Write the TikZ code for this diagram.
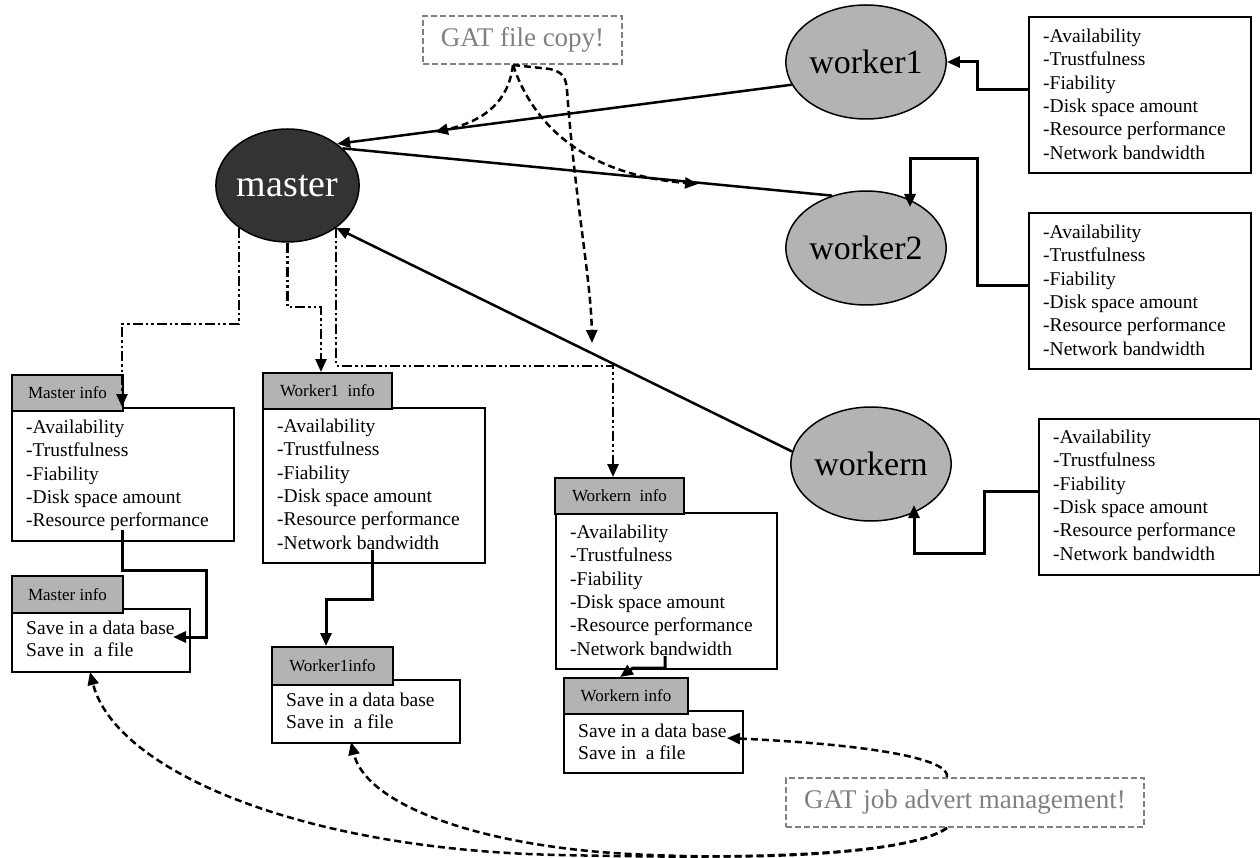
\documentclass[tikz,border=0pt]{standalone}
\usepackage{fontspec}
\setmainfont{Liberation Serif}
\usetikzlibrary{arrows.meta,shapes.geometric,calc}
\definecolor{nodegray}{HTML}{B3B3B3}
\definecolor{masterfill}{HTML}{333333}
\definecolor{gattext}{HTML}{808080}
\newcommand{\lbody}{\fontsize{19.5}{23.4}\selectfont}
\newcommand{\sbody}{\fontsize{19.5}{22.5}\selectfont}
\newcommand{\attrlist}{-Availability\\-Trustfulness\\-Fiability\\-Disk space amount\\-Resource performance\\-Network bandwidth}
\tikzset{
 ell/.style={ellipse, draw, line width=1.5pt, fill=nodegray, inner sep=0, font=\fontsize{34}{34}\selectfont},
 masterell/.style={ellipse, draw, line width=1.5pt, fill=masterfill, text=white, inner sep=0, font=\fontsize{38}{38}\selectfont},
 boxbody/.style={draw, line width=2pt, fill=white, rectangle, anchor=north west, inner sep=0},
 hdr/.style={draw, line width=2pt, fill=nodegray, inner sep=0, anchor=north west, font=\fontsize{17}{20}\selectfont},
 bodytext/.style={anchor=north west, inner sep=0, align=left},
 gatbox/.style={draw=gattext, dash pattern=on 6pt off 3pt, line width=2pt, text=gattext, inner sep=0, font=\fontsize{27}{27}\selectfont},
 tip/.style={-{Triangle[length=13pt,width=11pt]}},
 conn/.style={line width=3pt, tip},
 mainln/.style={line width=2.5pt},
 mainarr/.style={line width=2.5pt, tip},
 dashc/.style={line width=2.5pt, dash pattern=on 7pt off 4pt, tip},
 dd/.style={line width=2.5pt, dash pattern=on 10pt off 3pt on 2.5pt off 3pt on 2.5pt off 3pt, tip},
}
\begin{document}
\begin{tikzpicture}[x=1pt,y=-1pt]
\useasboundingbox (0,0) rectangle (1260,858);

% ellipses
\node[masterell, minimum width=131pt, minimum height=113pt] (master) at (287.5,185.5) {master};
\node[ell, minimum width=122pt, minimum height=114pt] (worker1) at (866,62) {worker1};
\node[ell, minimum width=122pt, minimum height=114pt] (worker2) at (866,248) {worker2};
\node[ell, minimum width=122pt, minimum height=114pt] (workern) at (871,464) {workern};

% right attribute boxes
\node[boxbody, minimum width=222pt, minimum height=156pt] (r1) at (1028,16) {};
\node[bodytext, font=\lbody] (r1t) at (1043,28.5) {\attrlist};
\node[boxbody, minimum width=222pt, minimum height=156pt] (r2) at (1028,212) {};
\node[bodytext, font=\lbody] (r2t) at (1043,224.5) {\attrlist};
\node[boxbody, minimum width=221pt, minimum height=156pt] (r3) at (1038,418) {};
\node[bodytext, font=\lbody] (r3t) at (1053,429.5) {\attrlist};

% master info
\node[boxbody, minimum width=222pt, minimum height=133pt] (mib) at (11,407) {};
\node[bodytext, font=\lbody] (mibt) at (26,419.5) {-Availability\\-Trustfulness\\-Fiability\\-Disk space amount\\-Resource performance};
\node[hdr, minimum width=111pt, minimum height=36pt] (mih) at (11,374) {Master info};
\node[boxbody, minimum width=178pt, minimum height=63pt] (mi2b) at (11,608) {};
\node[bodytext, font=\sbody] (mi2bt) at (26,620.5) {Save in a data base\\Save in~ a file};
\node[hdr, minimum width=111pt, minimum height=37pt] (mi2h) at (11,575) {Master info};

% worker1 info
\node[boxbody, minimum width=222pt, minimum height=155pt] (w1b) at (262,407) {};
\node[bodytext, font=\lbody] (w1bt) at (277,418.5) {\attrlist};
\node[hdr, minimum width=129pt, minimum height=36pt] (w1h) at (262,372) {Worker1~ info};
\node[boxbody, minimum width=188pt, minimum height=63pt] (w1b2) at (271,679) {};
\node[bodytext, font=\sbody] (w1b2t) at (286,692.5) {Save in a data base\\Save in~ a file};
\node[hdr, minimum width=121pt, minimum height=38pt] (w1h2) at (271,646) {Worker1info};

% workern info
\node[boxbody, minimum width=221pt, minimum height=156pt] (wnb) at (555,512) {};
\node[bodytext, font=\lbody] (wnbt) at (570,524.5) {\attrlist};
\node[hdr, minimum width=129pt, minimum height=36pt] (wnh) at (554,477) {Workern~ info};
\node[boxbody, minimum width=179pt, minimum height=62pt] (wnb2) at (563,710) {};
\node[bodytext, font=\sbody] (wnb2t) at (578,723.5) {Save in a data base\\Save in~ a file};
\node[hdr, minimum width=124pt, minimum height=36pt] (wnh2) at (563,677) {Workern info};

% GAT boxes
\node[gatbox, minimum width=199pt, minimum height=48pt] (gfc) at (522.5,40) {GAT file copy!};
\node[gatbox, minimum width=358pt, minimum height=49pt] (gjm) at (965,802.5) {GAT job advert management!};

% main links
\draw[mainarr] (worker1.197) -- (master.40);
\draw[mainln] (master.34) -- (worker2.123);
\draw[mainarr] (workern.171) -- (master.319);

% right box connectors
\coordinate (w2a) at (910,159);
\coordinate (wna) at (914,553);
\draw[conn] ([yshift=5pt]r1.west) -- ++(-51,0) |- (worker1.east);
\draw[conn] ([yshift=5pt]r2.west) -- ++(-51,0) |- (w2a) -- (910,207);
\draw[conn] ([yshift=6pt]r3.west) -- ++(-54,0) |- (wna) -- (914,505);

% dash-dot links from master
\coordinate (d1) at (122,324);
\coordinate (d2) at (321,307);
\coordinate (d3) at (613,366);
\draw[dd] (master.221) |- (d1) -- (d1 |- mib.north);
\draw[dd] (master.south) |- (d2) -- (d2 |- w1h.north);
\draw[dd] (master.-41) |- (d3) -- (d3 |- wnh.north);

% info -> save connectors
\coordinate (m1) at (122,530);
\coordinate (m2) at (206,570);
\coordinate (m3) at (173,637);
\draw[conn] (m1) |- (m2) |- (m3);
\coordinate (k1) at (372,550);
\coordinate (k2) at (326,599);
\draw[conn] (k1) |- (k2) -- (k2 |- w1h2.north);
\coordinate (n1) at (665,656);
\coordinate (n2) at (633,668);
\coordinate (n3) at (620,677);
\draw[conn] (n1) |- (n2) -- (n3);

% GAT file copy dashed arrows
\coordinate (gc) at ([xshift=-9.5pt]gfc.south);
\draw[dashc] (gc) .. controls (508,105) and (480,122) .. (435,132);
\draw[dashc] (gc) .. controls (535,130) and (590,175) .. (698,184);
\draw[dashc] (gc) -- (550,69) .. controls (563,72) and (566,78) .. (567,90) .. controls (575,200) and (591,280) .. (592,343);

% GAT job advert dashed arrows
\coordinate (gt) at ([xshift=-18pt]gjm.north);
\coordinate (gb) at ([xshift=-18pt]gjm.south);
\draw[dashc] (gt) .. controls (950,760) and (880,745) .. (727,738);
\draw[dashc] (gb) .. controls (900,860) and (700,858) .. (560,855) .. controls (300,850) and (115,770) .. (90,672);
\draw[dashc] (gb) .. controls (900,860) and (700,860) .. (600,852) .. controls (460,840) and (365,800) .. (351,742);
\end{tikzpicture}
\end{document}
